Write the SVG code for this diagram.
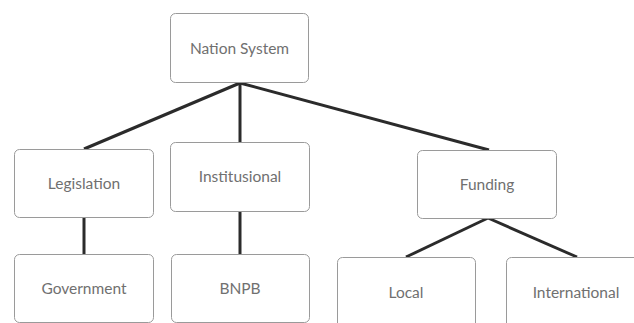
<svg xmlns="http://www.w3.org/2000/svg" width="634" height="323" viewBox="0 0 634 323">
<style>
.box{fill:#fff;stroke:#9a9a9a;stroke-width:1}
.lbl{font-family:Lato,"Liberation Sans",sans-serif;font-size:15.5px;fill:#707070;text-anchor:middle;dominant-baseline:central}
.con{stroke:#2b2b2b;stroke-width:3;fill:none}
</style>
<rect width="634" height="323" fill="#fff"/>
<g id="connectors">
<line class="con" x1="240" y1="83" x2="84" y2="149"/>
<line class="con" x1="240" y1="83" x2="240" y2="142"/>
<line class="con" x1="240" y1="83" x2="489" y2="150"/>
<line class="con" x1="84" y1="217" x2="84" y2="254"/>
<line class="con" x1="240" y1="211" x2="240" y2="254"/>
<line class="con" x1="488" y1="218" x2="406" y2="257"/>
<line class="con" x1="488" y1="218" x2="577" y2="257"/>
</g>
<g id="nation"><rect class="box" x="170.5" y="13.5" width="138" height="69" rx="5"/><text class="lbl" x="239.5" y="48">Nation System</text></g>
<g id="legislation"><rect class="box" x="14.5" y="149.5" width="139" height="68" rx="5"/><text class="lbl" x="84" y="183">Legislation</text></g>
<g id="institusional"><rect class="box" x="170.5" y="142.5" width="139" height="69" rx="5"/><text class="lbl" x="240" y="176">Institusional</text></g>
<g id="funding"><rect class="box" x="417.5" y="150.5" width="139" height="68" rx="5"/><text class="lbl" x="487" y="184">Funding</text></g>
<g id="government"><rect class="box" x="14.5" y="254.5" width="139" height="68" rx="5"/><text class="lbl" x="84" y="288">Government</text></g>
<g id="bnpb"><rect class="box" x="171.5" y="254.5" width="138" height="68" rx="5"/><text class="lbl" x="240" y="288">BNPB</text></g>
<g id="local"><rect class="box" x="337.5" y="257.5" width="138" height="80" rx="5"/><text class="lbl" x="406" y="292">Local</text></g>
<g id="international"><rect class="box" x="506.5" y="257.5" width="140" height="80" rx="5"/><text class="lbl" x="576" y="292">International</text></g>
</svg>
